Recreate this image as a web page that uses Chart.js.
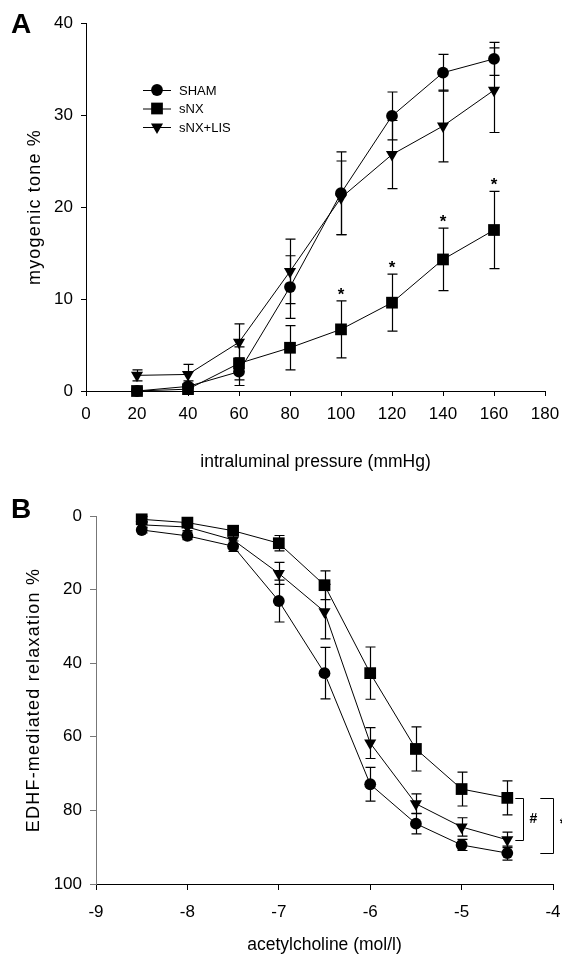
<!DOCTYPE html>
<html lang="en">
<head>
<meta charset="UTF-8">
<title>Myogenic tone and EDHF-mediated relaxation</title>
<script src="https://cdn.jsdelivr.net/npm/chart.js"></script>
<style>
  body { margin: 0; background: #fff; }
  .panel { position: absolute; left: 0; width: 562px; }
  .letter {
    position: absolute;
    left: 11px;
    line-height: 1;
    font: bold 28px "Liberation Sans", Arial, sans-serif;
  }
</style>
</head>
<body>
<div class="panel" style="top:0;height:480px"><canvas id="toneChart" width="562" height="480"></canvas></div>
<div class="panel" style="top:480px;height:478px"><canvas id="edhfChart" width="562" height="478"></canvas></div>
<div class="letter" style="top:8px">A</div>
<div class="letter" style="top:493px">B</div>
<script>
// A: myogenic tone vs intraluminal pressure (mean ± SEM)
const pressure = [20, 40, 60, 80, 100, 120, 140, 160];
const toneSham = [0, 0.5, 2.1, 11.3, 21.5, 29.9, 34.6, 36.1];
const toneShamSem = [0.4, 0.6, 1.5, 3.4, 4.5, 2.6, 2.0, 1.8];
const toneSnx = [0, 0.2, 3.0, 4.7, 6.7, 9.6, 14.3, 17.5];
const toneSnxSem = [0.3, 0.4, 1.8, 2.4, 3.1, 3.1, 3.4, 4.2];
const toneLis = [1.7, 1.8, 5.3, 13.0, 21.0, 25.7, 28.8, 32.7];
const toneLisSem = [0.6, 1.1, 2.0, 3.5, 4.0, 3.7, 3.9, 4.6];
const toneStars = [4, 5, 6, 7];   // sNX points marked *

// B: EDHF-mediated relaxation vs log acetylcholine
const logAch = [-8.5, -8, -7.5, -7, -6.5, -6, -5.5, -5, -4.5];
const relaxSham = [3.8, 5.4, 8.2, 23.1, 42.7, 72.9, 83.6, 89.4, 91.6];
const relaxShamSem = [0.8, 1.0, 1.4, 5.7, 7.0, 4.6, 2.8, 1.5, 1.9];
const relaxSnx = [0.9, 1.8, 4.0, 7.4, 18.8, 42.7, 63.3, 74.2, 76.6];
const relaxSnxSem = [0.8, 1.0, 1.3, 2.1, 3.9, 7.1, 6.0, 4.6, 4.6];
const relaxLis = [2.4, 3.0, 6.5, 15.6, 26.0, 61.7, 78.2, 84.5, 88.0];
const relaxLisSem = [0.8, 1.0, 1.4, 3.0, 7.4, 4.2, 2.7, 2.5, 2.1];

const groups = ['SHAM', 'sNX', 'sNX+LIS'];
const FONT = '"Liberation Sans", Arial, sans-serif';
Chart.defaults.font.family = FONT;
Chart.defaults.color = '#000';

const markers = [
  { pointStyle: 'circle', pointRadius: 5.9, pointRotation: 0 },
  { pointStyle: 'rect', pointRadius: 8.3, pointRotation: 0 },
  { pointStyle: 'triangle', pointRadius: 7, pointRotation: 180 }
];

function series(i, xs, ys, errs) {
  return Object.assign({
    label: groups[i],
    data: xs.map((x, k) => ({ x: x, y: ys[k] })),
    errors: errs,
    borderColor: '#000',
    borderWidth: 1,
    backgroundColor: '#000',
    pointBackgroundColor: '#000',
    pointBorderWidth: 0,
    tension: 0,
    clip: false
  }, markers[i]);
}

// same shapes Chart.js uses for its points, for the legend
function drawMarker(ctx, m, cx, cy) {
  const r = m.pointRadius;
  ctx.beginPath();
  if (m.pointStyle === 'circle') {
    ctx.arc(cx, cy, r, 0, Math.PI * 2);
  } else if (m.pointStyle === 'rect') {
    const s = r * Math.SQRT1_2;
    ctx.rect(cx - s, cy - s, 2 * s, 2 * s);
  } else {
    let a = m.pointRotation * Math.PI / 180;
    for (let k = 0; k < 3; k++) {
      const px = cx + Math.sin(a) * r, py = cy - Math.cos(a) * r;
      k ? ctx.lineTo(px, py) : ctx.moveTo(px, py);
      a += Math.PI * 2 / 3;
    }
  }
  ctx.closePath();
  ctx.fill();
}

const errorBars = {
  id: 'errorBars',
  beforeDatasetsDraw(chart) {
    const { ctx, scales: { x, y } } = chart;
    ctx.save();
    ctx.strokeStyle = '#000';
    ctx.lineWidth = 1.2;
    chart.data.datasets.forEach(ds => {
      (ds.errors || []).forEach((e, i) => {
        const p = ds.data[i];
        const px = Math.round(x.getPixelForValue(p.x)) + 0.5;
        const y1 = y.getPixelForValue(p.y - e);
        const y2 = y.getPixelForValue(p.y + e);
        ctx.beginPath();
        ctx.moveTo(px, y1); ctx.lineTo(px, y2);
        ctx.moveTo(px - 5, y1); ctx.lineTo(px + 5, y1);
        ctx.moveTo(px - 5, y2); ctx.lineTo(px + 5, y2);
        ctx.stroke();
      });
    });
    ctx.restore();
  }
};

const lineLegend = {
  id: 'lineLegend',
  afterDraw(chart, args, o) {
    const ctx = chart.ctx;
    ctx.save();
    ctx.fillStyle = '#000';
    ctx.strokeStyle = '#000';
    ctx.lineWidth = 1;
    ctx.font = '13px ' + FONT;
    ctx.textBaseline = 'middle';
    chart.data.datasets.forEach((ds, i) => {
      const cy = o.y + i * o.gap;
      ctx.beginPath();
      ctx.moveTo(o.x, cy + 0.5); ctx.lineTo(o.x + 28, cy + 0.5);
      ctx.stroke();
      drawMarker(ctx, markers[i], o.x + 14, cy);
      ctx.fillText(ds.label, o.x + 36, cy + 1);
    });
    ctx.restore();
  }
};

// rotated y title, slightly letter-spaced
const yTitle = {
  id: 'yTitle',
  afterDraw(chart, args, o) {
    const { ctx, chartArea } = chart;
    ctx.save();
    ctx.translate(o.x, (chartArea.top + chartArea.bottom) / 2);
    ctx.rotate(-Math.PI / 2);
    ctx.fillStyle = '#000';
    ctx.font = '18px ' + FONT;
    if ('letterSpacing' in ctx) ctx.letterSpacing = '1.2px';
    ctx.textAlign = 'center';
    ctx.textBaseline = 'middle';
    ctx.fillText(o.text, 0, 0);
    ctx.restore();
  }
};

const stars = {
  id: 'stars',
  afterDatasetsDraw(chart, args, o) {
    if (!o.points) return;
    const { ctx, scales: { x, y } } = chart;
    const ds = chart.data.datasets[o.dataset];
    ctx.save();
    ctx.font = 'bold 17px ' + FONT;
    ctx.textAlign = 'center';
    ctx.textBaseline = 'alphabetic';
    o.points.forEach(i => {
      const p = ds.data[i];
      const top = y.getPixelForValue(p.y + ds.errors[i]);
      ctx.fillText('*', x.getPixelForValue(p.x), top - 1);
    });
    ctx.restore();
  }
};

// significance brackets at the highest concentration
const brackets = {
  id: 'brackets',
  afterDatasetsDraw(chart, args, o) {
    if (!o.pairs) return;
    const { ctx, scales: { x, y } } = chart;
    const ds = chart.data.datasets;
    const last = ds[0].data.length - 1;
    const x0 = x.getPixelForValue(ds[0].data[last].x);
    ctx.save();
    ctx.strokeStyle = '#000';
    ctx.fillStyle = '#000';
    ctx.lineWidth = 1;
    ctx.font = 'bold 14px ' + FONT;
    ctx.textAlign = 'center';
    ctx.textBaseline = 'middle';
    o.pairs.forEach(b => {
      const ya = Math.round(y.getPixelForValue(ds[b.from].data[last].y)) + 0.5;
      const yb = Math.round(y.getPixelForValue(ds[b.to].data[last].y)) + 0.5;
      const xr = Math.round(x0 + b.right) + 0.5;
      ctx.beginPath();
      ctx.moveTo(x0 + b.left, ya); ctx.lineTo(xr, ya); ctx.lineTo(xr, yb); ctx.lineTo(x0 + b.left, yb);
      ctx.stroke();
      ctx.fillText(b.text, xr + b.gap, (ya + yb) / 2 + b.dy);
    });
    ctx.restore();
  }
};

// fixed box sizes so the plot area sits where it should; ignore label overhang
function fixBox(w, h) {
  return s => {
    if (w) s.width = w;
    if (h) s.height = h;
    s.paddingLeft = 0;
    s.paddingRight = 0;
  };
}

function axis(opts) {
  return Object.assign({
    type: 'linear',
    grid: { drawOnChartArea: false, drawTicks: true, tickLength: 5, color: '#000', lineWidth: 1 },
    border: { display: true, color: '#000', width: 1 }
  }, opts);
}

const tickFont = { size: 17 };
const xTitleFont = { size: 17.5 };

new Chart(document.getElementById('toneChart'), {
  type: 'line',
  data: {
    datasets: [
      series(0, pressure, toneSham, toneShamSem),
      series(1, pressure, toneSnx, toneSnxSem),
      series(2, pressure, toneLis, toneLisSem)
    ]
  },
  options: {
    responsive: false,
    animation: false,
    devicePixelRatio: 1,
    layout: { padding: { top: 23, right: 17, bottom: 0, left: 0 } },
    plugins: {
      legend: { display: false },
      tooltip: { enabled: false },
      lineLegend: { x: 143, y: 90, gap: 18.5 },
      yTitle: { x: 35, text: 'myogenic tone %' },
      stars: { dataset: 1, points: toneStars }
    },
    scales: {
      x: axis({
        min: 0, max: 180,
        ticks: { stepSize: 20, font: tickFont, color: '#000', padding: 8 },
        title: { display: true, text: 'intraluminal pressure (mmHg)', font: xTitleFont, color: '#000', padding: { top: 0, bottom: 7 } },
        afterFit: fixBox(0, 89)
      }),
      y: axis({
        min: 0, max: 40,
        ticks: { stepSize: 10, font: tickFont, color: '#000', padding: 8 },
        afterFit: fixBox(86, 0)
      })
    }
  },
  plugins: [errorBars, lineLegend, yTitle, stars]
});

new Chart(document.getElementById('edhfChart'), {
  type: 'line',
  data: {
    datasets: [
      series(0, logAch, relaxSham, relaxShamSem),
      series(1, logAch, relaxSnx, relaxSnxSem),
      series(2, logAch, relaxLis, relaxLisSem)
    ]
  },
  options: {
    responsive: false,
    animation: false,
    devicePixelRatio: 1,
    layout: { padding: { top: 36, right: 9, bottom: 0, left: 0 } },
    plugins: {
      legend: { display: false },
      tooltip: { enabled: false },
      lineLegend: { x: 408, y: 544, gap: 19.5 },
      yTitle: { x: 34, text: 'EDHF-mediated relaxation %' },
      brackets: {
        pairs: [
          { from: 1, to: 2, left: 8, right: 16, gap: 10, dy: 0, text: '#' },
          { from: 1, to: 0, left: 33, right: 46, gap: 9, dy: -2, text: '*' }
        ]
      }
    },
    scales: {
      x: axis({
        min: -9, max: -4,
        grid: { drawOnChartArea: false, drawTicks: true, tickLength: 6, color: '#000', lineWidth: 1 },
        ticks: { stepSize: 1, font: tickFont, color: '#000', padding: 12 },
        title: { display: true, text: 'acetylcholine (mol/l)', font: xTitleFont, color: '#000', padding: { top: 0, bottom: 2 } },
        afterFit: fixBox(0, 74)
      }),
      y: axis({
        min: 0, max: 100,
        reverse: true,
        grid: { drawOnChartArea: false, drawTicks: true, tickLength: 6, color: '#777', lineWidth: 1 },
        border: { display: true, color: '#777', width: 1 },
        ticks: { stepSize: 20, font: tickFont, color: '#000', padding: 8 },
        afterFit: fixBox(96, 0)
      })
    }
  },
  plugins: [errorBars, lineLegend, yTitle, brackets]
});
</script>
</body>
</html>
